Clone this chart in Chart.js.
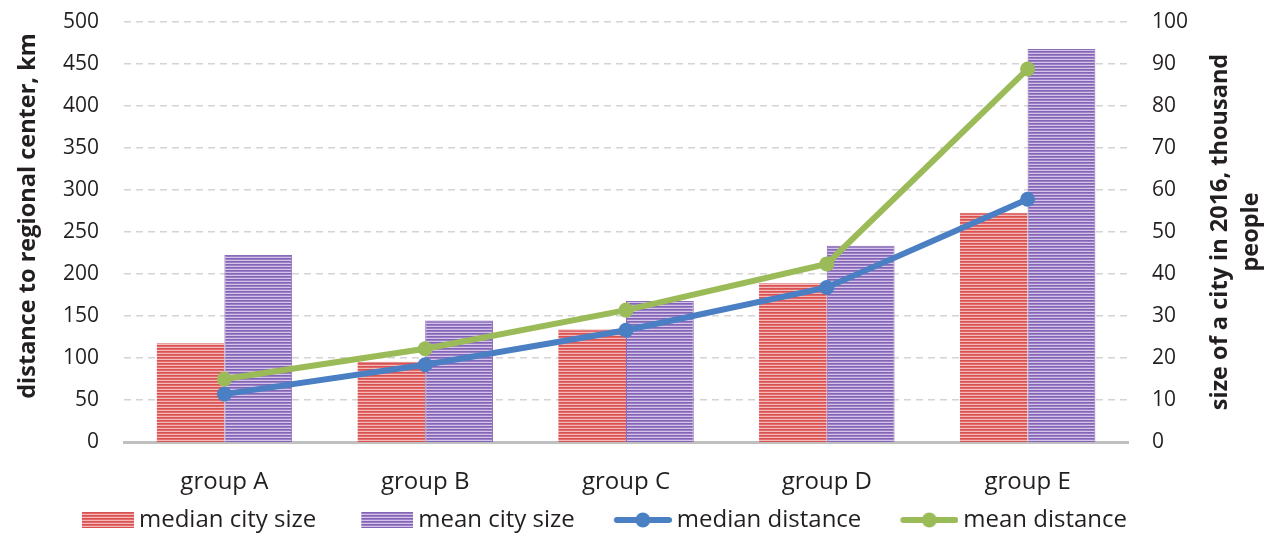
<!DOCTYPE html>
<html>
<head>
<meta charset="utf-8">
<script src="https://cdn.jsdelivr.net/npm/chart.js@4.4.1/dist/chart.umd.min.js"></script>
<style>
  html, body { margin: 0; padding: 0; background: #fff; }
  #wrap { width: 1274px; height: 535px; }
</style>
</head>
<body>
<div id="wrap"><canvas id="myChart" width="1274" height="535"></canvas></div>
<script>
const categories = ['group A', 'group B', 'group C', 'group D', 'group E'];
// thousand people (right axis)
const medianCitySize = [23.5, 19.1, 26.8, 37.8, 54.6];
const meanCitySize = [44.5, 28.9, 33.6, 46.7, 93.6];
// km (left axis)
const medianDistance = [57, 92, 133, 184, 289];
const meanDistance = [75, 111, 157, 212, 444];

const distanceTicks = [0, 50, 100, 150, 200, 250, 300, 350, 400, 450, 500];
const sizeTicks = [0, 10, 20, 30, 40, 50, 60, 70, 80, 90, 100];

const leftTitle = 'distance to regional center, km';
const rightTitleLines = ['size of a city in 2016, thousand', 'people'];

const FONT = '"Open Sans", "Noto Sans", sans-serif';
const TEXT = '#231f20';

// striped fill like the original bars
function stripes(colors) {
  const c = document.createElement('canvas');
  c.width = 1;
  c.height = colors.length;
  const g = c.getContext('2d');
  colors.forEach((col, i) => {
    g.fillStyle = col;
    g.fillRect(0, i, 1, 1);
  });
  return g.createPattern(c, 'repeat');
}

const redStripes = ['#d95252', '#e26a6a', '#f3b8b8'];
const purpleStripes = ['#8464b6', '#9b7ec4', '#d3c5e7'];

// legend icons: the visible part sits at the right end of a wider image,
// so the gap to the text is small and the gap before the item is large
const ICON_W = 94;
function barIcon(colors) {
  const c = document.createElement('canvas');
  c.width = ICON_W;
  c.height = 16;
  const g = c.getContext('2d');
  g.fillStyle = stripes(colors);
  g.fillRect(ICON_W - 52, 0, 52, 16);
  return c;
}
function lineIcon(color) {
  const c = document.createElement('canvas');
  c.width = ICON_W;
  c.height = 16;
  const g = c.getContext('2d');
  const x0 = ICON_W - 58;
  g.strokeStyle = color;
  g.lineWidth = 6;
  g.lineCap = 'round';
  g.beginPath();
  g.moveTo(x0 + 3, 8);
  g.lineTo(ICON_W - 3, 8);
  g.stroke();
  g.fillStyle = color;
  g.beginPath();
  g.arc(x0 + 29, 8, 7.5, 0, Math.PI * 2);
  g.fill();
  return c;
}

const blue = '#4a80c3';
const green = '#9bbb59';

// axis titles, both read bottom to top
const titlesPlugin = {
  id: 'axisTitles',
  afterLayout(chart) {
    // legend is centred a bit left of the canvas centre
    chart.legend.right = chart.width - 100;
    chart.legend.width = chart.legend.right - chart.legend.left;
  },
  afterDraw(chart) {
    const { ctx, chartArea } = chart;
    const cy = (chartArea.top + chartArea.bottom) / 2;
    ctx.save();
    ctx.font = 'bold 23.5px ' + FONT;
    ctx.fillStyle = TEXT;
    ctx.textAlign = 'center';
    ctx.textBaseline = 'middle';

    ctx.save();
    ctx.translate(28, cy - 16);
    ctx.rotate(-Math.PI / 2);
    ctx.fillText(leftTitle, 0, 0);
    ctx.restore();

    ctx.translate(chart.width - 54, cy);
    ctx.rotate(-Math.PI / 2);
    ctx.fillText(rightTitleLines[0], 0, 0);
    ctx.fillText(rightTitleLines[1], 0, 31);
    ctx.restore();
  }
};

const ctx = document.getElementById('myChart');

const icons = [barIcon(redStripes), barIcon(purpleStripes), lineIcon(blue), lineIcon(green)];

new Chart(ctx, {
  data: {
    labels: categories,
    datasets: [
      {
        type: 'bar',
        label: 'median city size',
        data: medianCitySize,
        yAxisID: 'y1',
        backgroundColor: stripes(redStripes),
        borderColor: '#d45a5a',
        borderWidth: { top: 1, left: 0, right: 0, bottom: 0 },
        barPercentage: 1,
        categoryPercentage: 0.675,
        order: 2,
      },
      {
        type: 'bar',
        label: 'mean city size',
        data: meanCitySize,
        yAxisID: 'y1',
        backgroundColor: stripes(purpleStripes),
        borderColor: '#8a6cb8',
        borderWidth: { top: 1, left: 1, right: 1, bottom: 0 },
        barPercentage: 1,
        categoryPercentage: 0.675,
        order: 2,
      },
      {
        type: 'line',
        label: 'median distance',
        data: medianDistance,
        yAxisID: 'y',
        borderColor: blue,
        backgroundColor: blue,
        borderWidth: 6,
        pointRadius: 7.5,
        pointBackgroundColor: blue,
        pointBorderWidth: 0,
        order: 1,
      },
      {
        type: 'line',
        label: 'mean distance',
        data: meanDistance,
        yAxisID: 'y',
        borderColor: green,
        backgroundColor: green,
        borderWidth: 6,
        pointRadius: 7.5,
        pointBackgroundColor: green,
        pointBorderWidth: 0,
        order: 0,
      },
    ],
  },
  options: {
    responsive: false,
    animation: false,
    layout: { padding: { top: 22, bottom: -7 } },
    plugins: {
      tooltip: { enabled: false },
      legend: {
        position: 'bottom',
        labels: {
          usePointStyle: true,
          pointStyleWidth: ICON_W - 14,
          padding: 10,
          color: TEXT,
          font: { family: FONT, size: 24 },
          generateLabels: (chart) =>
            chart.data.datasets.map((ds, i) => ({
              text: ds.label,
              pointStyle: icons[i],
              fillStyle: 'transparent',
              strokeStyle: 'transparent',
              lineWidth: 0,
              fontColor: TEXT,
              datasetIndex: i,
              hidden: false,
            })),
        },
      },
    },
    scales: {
      x: {
        grid: { display: false, drawTicks: false },
        border: { color: '#bfbfbf', width: 3 },
        afterFit: (s) => { s.height = 56; },
        ticks: { color: TEXT, padding: 26, font: { family: FONT, size: 24 } },
      },
      y: {
        position: 'left',
        min: 0,
        max: 500,
        afterBuildTicks: (s) => { s.ticks = distanceTicks.map((v) => ({ value: v })); },
        afterFit: (s) => { s.width = 124; s.paddingTop = 0; s.paddingBottom = 0; },
        grid: { color: '#d4d4d4', lineWidth: 1.5, drawTicks: false },
        border: { display: false, dash: [7, 5] },
        ticks: { color: TEXT, padding: 25, font: { family: FONT, size: 21 } },
      },
      y1: {
        position: 'right',
        min: 0,
        max: 100,
        afterBuildTicks: (s) => { s.ticks = sizeTicks.map((v) => ({ value: v })); },
        afterFit: (s) => { s.width = 146; s.paddingTop = 0; s.paddingBottom = 0; },
        grid: { display: false, drawTicks: false },
        border: { display: false },
        ticks: { color: TEXT, padding: 24, font: { family: FONT, size: 21 } },
      },
    },
  },
  plugins: [titlesPlugin],
});
</script>
</body>
</html>
